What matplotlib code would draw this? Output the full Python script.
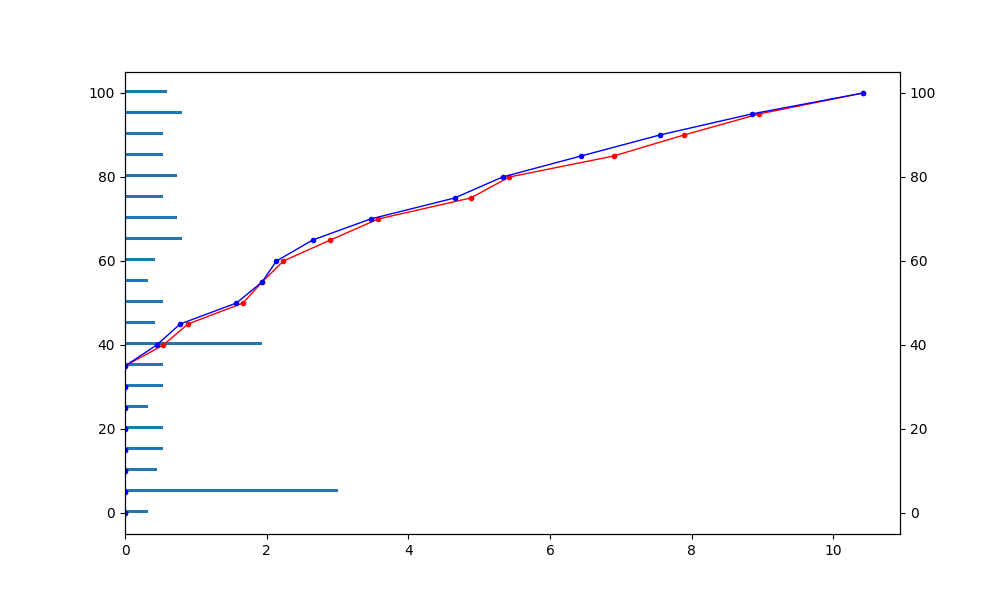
import numpy as np
import matplotlib
matplotlib.use("Agg")
import matplotlib.pyplot as plt

# poziomy (os y) wspolne dla slupkow i krzywych
poziomy = np.arange(0, 101, 5)

# szerokosci slupkow
szerokosci = [0.325, 3.0, 0.45, 0.537, 0.537, 0.325, 0.537, 0.537, 1.936,
              0.424, 0.537, 0.325, 0.424, 0.805, 0.735, 0.537, 0.735,
              0.537, 0.537, 0.805, 0.595]

# krzywa czerwona i niebieska
x_czerwony = [0, 0, 0, 0, 0, 0, 0, 0, 0.54, 0.89, 1.667, 1.935, 2.237,
              2.90, 3.574, 4.88, 5.425, 6.90, 7.89, 8.95, 10.42]
x_niebieski = [0, 0, 0, 0, 0, 0, 0, 0, 0.447, 0.78, 1.573, 1.935, 2.138,
               2.65, 3.466, 4.653, 5.33, 6.438, 7.55, 8.845, 10.42]

fig, ax = plt.subplots(figsize=(10, 6), dpi=100)
ax.barh(poziomy, szerokosci, height=0.8, align="edge", color="#1f77b4")

ax2 = ax.twinx()
ax2.plot(x_czerwony, poziomy, "r.-", linewidth=1)
ax2.plot(x_niebieski, poziomy, "b.-", linewidth=1)

ax2.set_ylim(-5, 105)
ax.set_ylim(-5, 105)
ax.set_xlim(0, max(x_niebieski) * 1.05)

fig.savefig("out.png")
